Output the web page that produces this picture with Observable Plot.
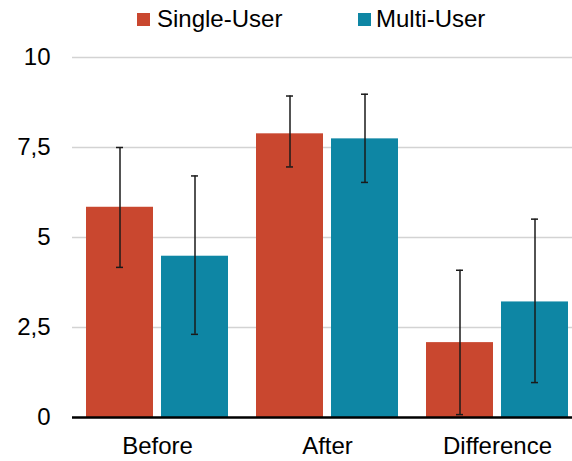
<!DOCTYPE html>
<html>
<head>
<meta charset="utf-8">
<script src="https://cdn.jsdelivr.net/npm/d3@7"></script>
<script src="https://cdn.jsdelivr.net/npm/@observablehq/plot@0.6"></script>
<style>
  html, body { margin: 0; padding: 0; background: #fff; overflow: hidden; }
  #wrap { width: 572px; position: relative; }
  #legend { position: relative; height: 36px; font-family: "Liberation Sans", Arial, sans-serif; font-size: 24px; color: #000; }
  #legend .sw { position: absolute; top: 13px; width: 13px; height: 13px; }
  #legend .lb { position: absolute; top: 5px; line-height: normal; white-space: nowrap; }
</style>
</head>
<body>
<div id="wrap">
  <div id="legend"></div>
  <div id="chart"></div>
</div>
<script>
const categories = ["Before", "After", "Difference"];
const series = ["Single-User", "Multi-User"];
const colors = ["#c9472f", "#0e86a4"];
const singleMeans = [5.84, 7.88, 2.08];
const singleLow = [4.17, 6.96, 0.08];
const singleHigh = [7.50, 8.93, 4.09];
const multiMeans = [4.48, 7.74, 3.21];
const multiLow = [2.31, 6.53, 0.97];
const multiHigh = [6.71, 8.98, 5.51];
const yTicks = [0, 2.5, 5, 7.5, 10];
const gridValues = [2.5, 5, 7.5, 10];

const data = [];
categories.forEach((c, i) => {
  data.push({cat: c, series: series[0], mean: singleMeans[i], lo: singleLow[i], hi: singleHigh[i]});
  data.push({cat: c, series: series[1], mean: multiMeans[i], lo: multiLow[i], hi: multiHigh[i]});
});

// legend (HTML, above the SVG)
const legend = document.getElementById("legend");
const legendPos = [[137, 157], [358, 376]];
series.forEach((s, i) => {
  const sw = document.createElement("div");
  sw.className = "sw"; sw.style.left = legendPos[i][0] + "px"; sw.style.background = colors[i];
  const lb = document.createElement("div");
  lb.className = "lb"; lb.style.left = legendPos[i][1] + "px"; lb.textContent = s;
  legend.appendChild(sw); legend.appendChild(lb);
});

const chart = Plot.plot({
  width: 572,
  height: 425,
  marginTop: 21,
  marginBottom: 44,
  marginLeft: 72,
  marginRight: -10,
  style: {fontFamily: "'Liberation Sans', Arial, sans-serif", fontSize: "24px", color: "#000", background: "#fff", overflow: "visible"},
  fx: {domain: categories, paddingInner: 0.153, paddingOuter: 0.0765, axis: "bottom", label: null, tickSize: 0, tickPadding: 19},
  x: {domain: series, paddingInner: 0.105, paddingOuter: 0, axis: null},
  y: {domain: [0, 10], ticks: yTicks, tickSize: 0, tickPadding: 35, label: null,
      tickFormat: d => String(d).replace(".", ",")},
  color: {domain: series, range: colors},
  marks: [
    Plot.ruleY(gridValues, {stroke: "#d3d3d3", strokeWidth: 1.5, insetLeft: -13, insetRight: -13}),
    Plot.barY(data, {fx: "cat", x: "series", y: "mean", fill: "series"}),
    Plot.ruleY([0], {stroke: "#000", strokeWidth: 2.5, insetLeft: -13, insetRight: -13}),
    Plot.ruleX(data, {fx: "cat", x: "series", y1: "lo", y2: "hi", stroke: "#1a1a1a", strokeWidth: 1.5}),
    Plot.tickY(data, {fx: "cat", x: "series", y: "hi", stroke: "#1a1a1a", strokeWidth: 1.5, insetLeft: 30, insetRight: 30}),
    Plot.tickY(data, {fx: "cat", x: "series", y: "lo", stroke: "#1a1a1a", strokeWidth: 1.5, insetLeft: 30, insetRight: 30})
  ]
});
document.getElementById("chart").appendChild(chart);
</script>
</body>
</html>
